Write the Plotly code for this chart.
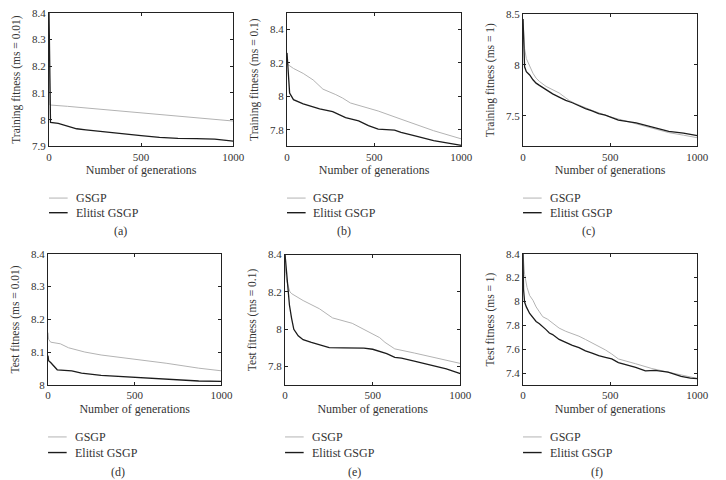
import plotly.graph_objects as go

# ---------------- data ----------------
series_names = ["GSGP", "Elitist GSGP"]
captions = ["(a)", "(b)", "(c)", "(d)", "(e)", "(f)"]
y_titles = ["Training fitness (ms = 0.01)", "Training fitness (ms = 0.1)", "Training fitness (ms = 1)",
            "Test fitness (ms = 0.01)", "Test fitness (ms = 0.1)", "Test fitness (ms = 1)"]
x_title = "Number of generations"
x_ticks = [0, 500, 1000]

# (a)
a_gsgp_x = [0, 2, 5, 100, 300, 500, 700, 900, 1000]
a_gsgp_y = [8.30, 8.10, 8.055, 8.050, 8.038, 8.025, 8.012, 8.000, 7.995]
a_elit_x = [0, 3, 8, 50, 100, 150, 200, 300, 400, 500, 600, 700, 800, 900, 1000]
a_elit_y = [8.40, 8.10, 7.99, 7.986, 7.976, 7.966, 7.962, 7.954, 7.947, 7.940, 7.934, 7.930, 7.929, 7.927, 7.920]
# (b)
b_gsgp_x = [0, 5, 37, 93, 150, 206, 280, 318, 364, 450, 523, 654, 841, 1000]
b_gsgp_y = [8.21, 8.19, 8.167, 8.137, 8.098, 8.043, 8.010, 7.990, 7.960, 7.935, 7.912, 7.863, 7.794, 7.745]
b_elit_x = [0, 5, 15, 37, 93, 187, 262, 336, 411, 467, 523, 617, 654, 729, 841, 1000]
b_elit_y = [8.26, 8.15, 8.02, 7.98, 7.955, 7.925, 7.908, 7.872, 7.853, 7.824, 7.804, 7.798, 7.784, 7.765, 7.735, 7.706]
# (c)
c_gsgp_x = [0, 9, 19, 38, 57, 75, 94, 132, 170, 207, 245, 264, 300, 400, 500, 600, 700, 836, 920, 1000]
c_gsgp_y = [8.45, 8.157, 8.061, 7.981, 7.917, 7.869, 7.837, 7.788, 7.756, 7.724, 7.676, 7.651, 7.62, 7.55, 7.49, 7.445, 7.40, 7.335, 7.31, 7.285]
c_elit_x = [0, 4, 9, 19, 38, 57, 75, 94, 132, 170, 207, 245, 283, 321, 358, 396, 434, 472, 509, 547, 649, 743, 836, 920, 1000]
c_elit_y = [8.45, 8.05, 7.98, 7.933, 7.90, 7.853, 7.82, 7.798, 7.756, 7.715, 7.683, 7.651, 7.628, 7.596, 7.571, 7.548, 7.522, 7.506, 7.484, 7.458, 7.43, 7.39, 7.348, 7.33, 7.306]
# (d)
d_gsgp_x = [0, 3, 15, 71, 118, 212, 306, 493, 681, 869, 1000]
d_gsgp_y = [8.16, 8.14, 8.131, 8.126, 8.114, 8.101, 8.092, 8.080, 8.067, 8.052, 8.044]
d_elit_x = [0, 3, 15, 53, 137, 193, 306, 493, 681, 869, 1000]
d_elit_y = [8.09, 8.075, 8.069, 8.047, 8.044, 8.037, 8.030, 8.025, 8.020, 8.013, 8.012]
# (e)
e_gsgp_x = [0, 3, 9, 28, 39, 103, 196, 271, 383, 477, 540, 570, 600, 626, 737, 849, 1000]
e_gsgp_y = [8.40, 8.30, 8.26, 8.20, 8.19, 8.154, 8.11, 8.061, 8.032, 7.988, 7.955, 7.93, 7.91, 7.895, 7.873, 7.849, 7.817]
e_elit_x = [0, 11, 25, 37, 50, 75, 103, 150, 196, 252, 330, 400, 450, 500, 533, 580, 626, 664, 737, 800, 849, 920, 1000]
e_elit_y = [8.40, 8.26, 8.13, 8.06, 8.0, 7.965, 7.944, 7.93, 7.918, 7.902, 7.90, 7.90, 7.899, 7.893, 7.885, 7.87, 7.85, 7.845, 7.83, 7.815, 7.803, 7.788, 7.763]
# (f)
f_gsgp_x = [0, 3, 9, 23, 38, 57, 75, 94, 113, 141, 170, 207, 245, 283, 321, 358, 396, 434, 472, 509, 547, 646, 739, 832, 925, 1000]
f_gsgp_y = [8.40, 8.30, 8.227, 8.118, 8.05, 8.01, 7.955, 7.914, 7.873, 7.852, 7.819, 7.778, 7.751, 7.732, 7.71, 7.683, 7.656, 7.629, 7.596, 7.561, 7.52, 7.48, 7.44, 7.41, 7.38, 7.357]
f_elit_x = [0, 3, 9, 19, 38, 57, 75, 94, 113, 132, 151, 170, 207, 245, 283, 321, 358, 396, 434, 472, 509, 547, 646, 702, 758, 832, 907, 960, 1000]
f_elit_y = [8.40, 8.10, 7.996, 7.955, 7.90, 7.86, 7.833, 7.814, 7.792, 7.765, 7.737, 7.724, 7.683, 7.656, 7.634, 7.615, 7.588, 7.569, 7.547, 7.533, 7.52, 7.49, 7.45, 7.42, 7.425, 7.41, 7.375, 7.36, 7.355]

y_ranges = [[7.9, 8.4], [7.7, 8.5], [7.2, 8.5], [8.0, 8.4], [7.7, 8.4], [7.3, 8.4]]
y_tickvals = [[7.9, 8.0, 8.1, 8.2, 8.3, 8.4], [7.8, 8.0, 8.2, 8.4], [7.5, 8.0, 8.5],
              [8.0, 8.1, 8.2, 8.3, 8.4], [7.8, 8.0, 8.2, 8.4], [7.4, 7.6, 7.8, 8.0, 8.2, 8.4]]
y_ticktext = [["7.9", "8", "8.1", "8.2", "8.3", "8.4"], ["7.8", "8", "8.2", "8.4"], ["7.5", "8", "8.5"],
              ["8", "8.1", "8.2", "8.3", "8.4"], ["7.8", "8", "8.2", "8.4"], ["7.4", "7.6", "7.8", "8", "8.2", "8.4"]]

gsgp_data = [(a_gsgp_x, a_gsgp_y), (b_gsgp_x, b_gsgp_y), (c_gsgp_x, c_gsgp_y),
             (d_gsgp_x, d_gsgp_y), (e_gsgp_x, e_gsgp_y), (f_gsgp_x, f_gsgp_y)]
elit_data = [(a_elit_x, a_elit_y), (b_elit_x, b_elit_y), (c_elit_x, c_elit_y),
             (d_elit_x, d_elit_y), (e_elit_x, e_elit_y), (f_elit_x, f_elit_y)]

# ---------------- layout (pixel geometry) ----------------
W, H = 726, 480
plot_px = [(47, 235, 7, 144), (290, 468, 7, 144), (531, 709, 8, 144),
           (46, 223, 254, 389), (288, 467, 255, 389), (531, 709, 254, 389)]
legend_y_px = [(197, 212), (197, 212), (197, 212), (442, 458), (442, 458), (442, 458)]
caption_px = [(120, 231), (348, 231), (598, 231), (117, 478), (359, 478), (607, 478)]

FONT = "'Liberation Serif', 'Times New Roman', Times, serif"
TXT = "#333333"
GRAY = "#b3b3b3"
BLACK = "#1c1c1c"
colors = [GRAY, BLACK]

fig = go.Figure()
shapes, annotations = [], []
layout_axes = {}

for i in range(6):
    k = "" if i == 0 else str(i + 1)
    x0, x1, y0, y1 = plot_px[i]
    for s, (xs, ys) in enumerate([gsgp_data[i], elit_data[i]]):
        fig.add_trace(go.Scatter(
            x=xs, y=ys, mode="lines", name=series_names[s], showlegend=False,
            line=dict(color=colors[s], width=1.0 if s == 0 else 1.3),
            xaxis="x" + k, yaxis="y" + k))
    axis_common = dict(showline=True, linecolor="#222", linewidth=1, mirror="ticks",
                       ticks="inside", ticklen=3, tickcolor="#222", showgrid=False,
                       zeroline=False, tickfont=dict(family=FONT, size=11, color=TXT))
    layout_axes["xaxis" + k] = dict(
        axis_common, domain=[x0 / W, x1 / W], anchor="y" + k, range=[0, 1000],
        tickvals=x_ticks, ticktext=[str(v) for v in x_ticks],
        title=dict(text=x_title, font=dict(family=FONT, size=12, color=TXT), standoff=4))
    layout_axes["yaxis" + k] = dict(
        axis_common, domain=[1 - y1 / H, 1 - y0 / H], anchor="x" + k, range=y_ranges[i],
        tickvals=y_tickvals[i], ticktext=y_ticktext[i],
        title=dict(text=y_titles[i], font=dict(family=FONT, size=11.5, color=TXT), standoff=9))

    # legend (drawn below each panel)
    for s in range(2):
        ly = legend_y_px[i][s]
        shapes.append(dict(type="line", xref="paper", yref="paper",
                           x0=x0 / W, x1=(x0 + 19) / W, y0=1 - ly / H, y1=1 - ly / H,
                           line=dict(color=colors[s], width=1.0 if s == 0 else 1.4)))
        annotations.append(dict(text=series_names[s], xref="paper", yref="paper",
                                x=(x0 + 25) / W, y=1 - ly / H, xanchor="left", yanchor="middle",
                                showarrow=False, font=dict(family=FONT, size=12, color=TXT)))
    cx, cy = caption_px[i]
    annotations.append(dict(text=captions[i], xref="paper", yref="paper",
                            x=cx / W, y=1 - cy / H, xanchor="center", yanchor="middle",
                            showarrow=False, font=dict(family=FONT, size=12, color=TXT)))

fig.update_layout(
    width=W, height=H, margin=dict(l=0, r=0, t=0, b=0),
    paper_bgcolor="white", plot_bgcolor="white", showlegend=False,
    font=dict(family=FONT, color=TXT),
    shapes=shapes, annotations=annotations, **layout_axes)

fig.write_html("out.html")
